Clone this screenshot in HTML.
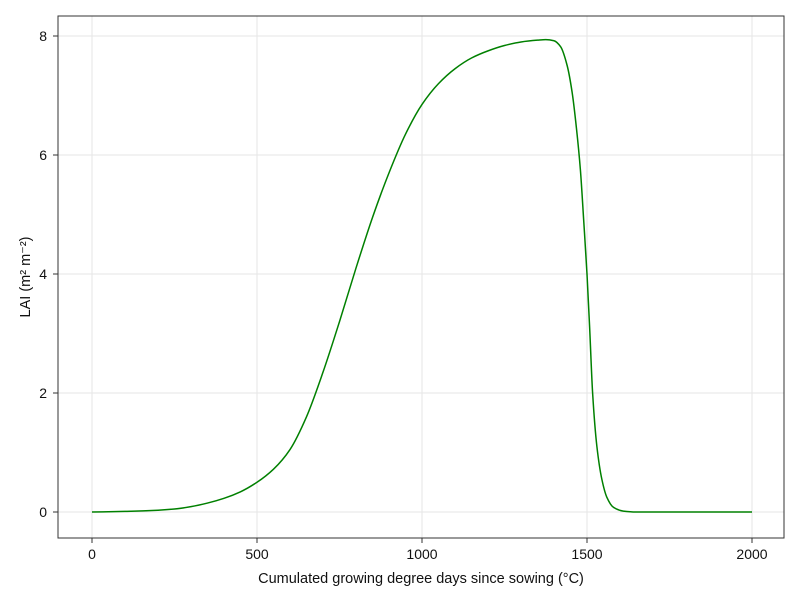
<!DOCTYPE html>
<html><head><meta charset="utf-8"><style>
body{margin:0;background:#fff}
svg{font-family:"Liberation Sans",sans-serif}
</style></head><body>
<svg id="chart" width="800" height="600">
<rect width="800" height="600" fill="#fff"/>
<g id="grid"></g>
<g id="ticks"></g>
<path id="line" fill="none" stroke="#008000" stroke-width="1.5"/>
<rect x="58" y="16" width="726" height="522" fill="none" stroke="#333" stroke-width="1"/>
<text x="421" y="583" text-anchor="middle" font-size="14.5" fill="#111">Cumulated growing degree days since sowing (°C)</text>
<text transform="translate(30,277) rotate(-90)" text-anchor="middle" font-size="14.5" fill="#111">LAI (m² m⁻²)</text>
</svg>
<script>
const xTicks=[0,500,1000,1500,2000];
const yTicks=[0,2,4,6,8];
const gdd=[0,100,200,250,300,350,400,450,500,550,600,650,700,750,800,850,900,950,1000,1050,1100,1150,1200,1250,1300,1350,1375,1400,1420,1440,1455,1468,1480,1490,1500,1508,1517,1530,1545,1560,1580,1610,1650,1800,2000];
const lai=[0,0.01,0.03,0.05,0.09,0.15,0.23,0.34,0.5,0.72,1.05,1.6,2.35,3.2,4.1,4.95,5.7,6.35,6.85,7.2,7.45,7.63,7.75,7.84,7.9,7.93,7.94,7.92,7.82,7.5,7.05,6.45,5.75,4.9,4.0,3.1,2.0,1.1,0.55,0.25,0.08,0.015,0,0,0];
const sx=v=>92+v*(752-92)/2000;
const sy=v=>512-v*(512-36)/8;
const NS="http://www.w3.org/2000/svg";
const grid=document.getElementById('grid'),ticks=document.getElementById('ticks');
xTicks.forEach(t=>{
 const l=document.createElementNS(NS,'line');
 l.setAttribute('x1',sx(t));l.setAttribute('x2',sx(t));l.setAttribute('y1',16);l.setAttribute('y2',538);
 l.setAttribute('stroke','#e5e5e5');
 
 
 grid.appendChild(l);
 const k=document.createElementNS(NS,'line');
 k.setAttribute('x1',sx(t));k.setAttribute('x2',sx(t));k.setAttribute('y1',538);k.setAttribute('y2',543);k.setAttribute('stroke','#333');
 
 
 ticks.appendChild(k);
 const tx=document.createElementNS(NS,'text');
 tx.setAttribute('x',sx(t));tx.setAttribute('y',559);tx.setAttribute('text-anchor','middle');tx.setAttribute('font-size','14');tx.setAttribute('fill','#111');
 tx.textContent=t;
 
 
 ticks.appendChild(tx);
});
yTicks.forEach(t=>{
 const l=document.createElementNS(NS,'line');
 l.setAttribute('x1',58);l.setAttribute('x2',784);l.setAttribute('y1',sy(t));l.setAttribute('y2',sy(t));
 l.setAttribute('stroke','#e5e5e5');
 
 
 grid.appendChild(l);
 const k=document.createElementNS(NS,'line');
 k.setAttribute('x1',53);k.setAttribute('x2',58);k.setAttribute('y1',sy(t));k.setAttribute('y2',sy(t));k.setAttribute('stroke','#333');
 
 
 ticks.appendChild(k);
 const tx=document.createElementNS(NS,'text');
 tx.setAttribute('x',47);tx.setAttribute('y',sy(t)+5);tx.setAttribute('text-anchor','end');tx.setAttribute('font-size','14');tx.setAttribute('fill','#111');
 tx.textContent=t;
 
 
 ticks.appendChild(tx);
});
(function(){
 const X=gdd.map(sx),Y=lai.map(sy),n=X.length;
 const d=[],m=new Array(n);
 for(let i=0;i<n-1;i++)d.push((Y[i+1]-Y[i])/(X[i+1]-X[i]));
 m[0]=d[0];m[n-1]=d[n-2];
 for(let i=1;i<n-1;i++){
  if(d[i-1]*d[i]<=0)m[i]=0;
  else{const h0=X[i]-X[i-1],h1=X[i+1]-X[i];const w1=2*h1+h0,w2=h1+2*h0;m[i]=(w1+w2)/(w1/d[i-1]+w2/d[i]);}
 }
 let p='M'+X[0].toFixed(1)+','+Y[0].toFixed(1);
 for(let i=0;i<n-1;i++){
  const h=(X[i+1]-X[i])/3;
  p+='C'+(X[i]+h).toFixed(2)+','+(Y[i]+m[i]*h).toFixed(2)+' '+(X[i+1]-h).toFixed(2)+','+(Y[i+1]-m[i+1]*h).toFixed(2)+' '+X[i+1].toFixed(2)+','+Y[i+1].toFixed(2);
 }
 document.getElementById('line').setAttribute('d',p);
})();
</script>
</body></html>
